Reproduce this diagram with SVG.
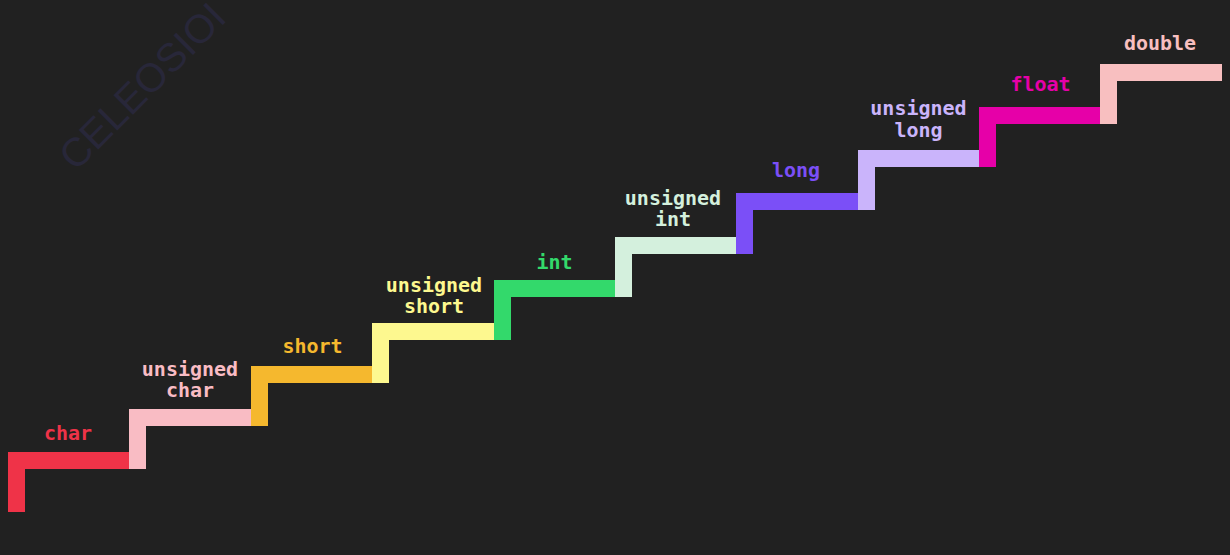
<svg xmlns="http://www.w3.org/2000/svg" width="1230" height="555" viewBox="0 0 1230 555">
<style>
  .lbl { font-family: "DejaVu Sans Mono", "Liberation Mono", monospace; font-size: 20px; font-weight: bold; text-anchor: middle; }
  .wm { font-family: "Liberation Sans", Arial, sans-serif; font-size: 40px; fill: #282739; text-anchor: middle; dominant-baseline: central; }
</style>
<rect x="0" y="0" width="1230" height="555" fill="#212121"/>
<text class="wm" transform="translate(142,86) rotate(-45)">CELEOSIOI</text>
<g id="char">
  <path d="M8,452 H129 V469 H25 V512 H8Z" fill="#ef3348"/>
  <text class="lbl" x="68" y="439.5" fill="#ef3348">char</text>
</g>
<g id="unsigned-char">
  <path d="M129,409 H251 V426 H146 V469 H129Z" fill="#f9bcc4"/>
  <text class="lbl" x="190" y="376" fill="#f9bcc4">unsigned<tspan x="190" dy="20.5">char</tspan></text>
</g>
<g id="short">
  <path d="M251,366 H372 V383 H268 V426 H251Z" fill="#f5b82e"/>
  <text class="lbl" x="312.5" y="353" fill="#f5b82e">short</text>
</g>
<g id="unsigned-short">
  <path d="M372,323 H494 V340 H389 V383 H372Z" fill="#fdf88f"/>
  <text class="lbl" x="434" y="291.5" fill="#fdf88f">unsigned<tspan x="434" dy="21">short</tspan></text>
</g>
<g id="int">
  <path d="M494,280 H615 V297 H511 V340 H494Z" fill="#33d96b"/>
  <text class="lbl" x="554.5" y="268.5" fill="#33d96b">int</text>
</g>
<g id="unsigned-int">
  <path d="M615,237 H736 V254 H632 V297 H615Z" fill="#d4f0dd"/>
  <text class="lbl" x="673" y="205" fill="#d4f0dd">unsigned<tspan x="673" dy="20.5">int</tspan></text>
</g>
<g id="long">
  <path d="M736,193 H858 V210 H753 V254 H736Z" fill="#7b4ff7"/>
  <text class="lbl" x="796" y="177" fill="#7b4ff7">long</text>
</g>
<g id="unsigned-long">
  <path d="M858,150 H979 V167 H875 V210 H858Z" fill="#cab4fb"/>
  <text class="lbl" x="918.5" y="115" fill="#cab4fb">unsigned<tspan x="918.5" dy="21.5">long</tspan></text>
</g>
<g id="float">
  <path d="M979,107 H1100 V124 H996 V167 H979Z" fill="#e600a8"/>
  <text class="lbl" x="1040.5" y="91" fill="#e600a8">float</text>
</g>
<g id="double">
  <path d="M1100,64 H1222 V81 H1117 V124 H1100Z" fill="#f8bfc0"/>
  <text class="lbl" x="1160" y="49.5" fill="#f8bfc0">double</text>
</g>
<g id="connectors"></g>
</svg>
